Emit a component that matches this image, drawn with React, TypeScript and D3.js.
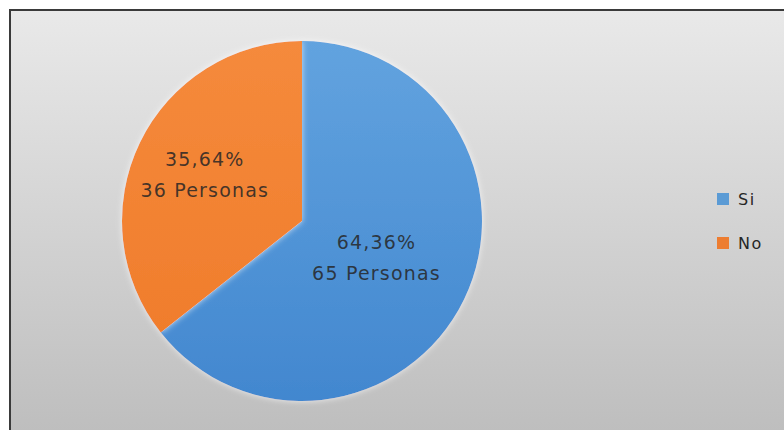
import { useRef, useEffect } from 'react'
import * as d3 from 'd3'

const categories = ["Si", "No"]
const counts = [65, 36]
const percentLabels = ["64,36%", "35,64%"]
const colors = ["#5b9bd5", "#ed7d31"]

const width = 784
const height = 430
// label distance from the centre, as a share of the radius (Excel best-fit placement)
const labelRadius = [0.46, 0.6]

export default function App() {
  const svgRef = useRef<SVGSVGElement>(null)

  useEffect(() => {
    if (!svgRef.current) return
    const svg = d3.select(svgRef.current)
    svg.selectAll("*").remove()

    const defs = svg.append("defs")

    // chart area background
    const bg = defs.append("linearGradient")
      .attr("id", "bg-grad")
      .attr("x1", "0%").attr("y1", "0%")
      .attr("x2", "0%").attr("y2", "100%")
    bg.append("stop").attr("offset", "0%").attr("stop-color", "#e9e9e9")
    bg.append("stop").attr("offset", "100%").attr("stop-color", "#bcbcbc")

    const sliceGrads = [
      ["#62a3df", "#4287cf"],
      ["#f58a3c", "#f07d2c"],
    ]
    sliceGrads.forEach((g, i) => {
      const lg = defs.append("linearGradient")
        .attr("id", `slice-${i}`)
        .attr("x1", "0%").attr("y1", "0%")
        .attr("x2", "0%").attr("y2", "100%")
      lg.append("stop").attr("offset", "0%").attr("stop-color", g[0])
      lg.append("stop").attr("offset", "100%").attr("stop-color", g[1])
    })

    const shadow = defs.append("filter").attr("id", "glow")
      .attr("x", "-10%").attr("y", "-10%").attr("width", "120%").attr("height", "120%")
    shadow.append("feGaussianBlur").attr("in", "SourceAlpha").attr("stdDeviation", 3).attr("result", "b")
    shadow.append("feFlood").attr("flood-color", "#ffffff").attr("flood-opacity", 0.7)
    shadow.append("feComposite").attr("in2", "b").attr("operator", "in").attr("result", "g")
    const merge = shadow.append("feMerge")
    merge.append("feMergeNode").attr("in", "g")
    merge.append("feMergeNode").attr("in", "SourceGraphic")

    // frame
    svg.append("rect")
      .attr("x", 10).attr("y", 10)
      .attr("width", width + 10).attr("height", height + 10)
      .attr("fill", "url(#bg-grad)")
      .attr("stroke", "#3a3a3a")
      .attr("stroke-width", 2)

    // pie
    const cx = 302
    const cy = 221
    const radius = 180

    const pie = d3.pie<number>().sort(null).value(d => d)
    const arcs = pie(counts)
    const arc = d3.arc<d3.PieArcDatum<number>>().innerRadius(0).outerRadius(radius)

    const g = svg.append("g").attr("transform", `translate(${cx},${cy})`)
    g.selectAll("path.slice")
      .data(arcs)
      .enter()
      .append("path")
      .attr("class", "slice")
      .attr("d", arc)
      .attr("fill", (_, i) => `url(#slice-${i})`)
      .attr("filter", "url(#glow)")

    // data labels
    const labels = g.selectAll("text.lbl")
      .data(arcs)
      .enter()
      .append("text")
      .attr("class", "lbl")
      .attr("transform", (d, i) => {
        const labelArc = d3.arc<d3.PieArcDatum<number>>()
          .innerRadius(0).outerRadius(radius * labelRadius[i] * 2)
        const [x, y] = labelArc.centroid(d)
        return `translate(${x},${y})`
      })
      .attr("text-anchor", "middle")
      .style("font-family", "'DejaVu Sans', sans-serif")
      .style("font-size", "19px")
      .style("letter-spacing", "1.2px")
      .style("fill", "#262626")
      .style("fill-opacity", 0.85)

    labels.append("tspan")
      .attr("x", 0).attr("y", -8)
      .text((_, i) => percentLabels[i])
    labels.append("tspan")
      .attr("x", 0).attr("y", 23)
      .text((d, i) => `${counts[i]} Personas`)

    // legend
    const legend = svg.append("g").attr("transform", "translate(717,193)")
    categories.forEach((c, i) => {
      const row = legend.append("g").attr("transform", `translate(0,${i * 44})`)
      row.append("rect")
        .attr("width", 12).attr("height", 12)
        .attr("fill", colors[i])
      row.append("text")
        .attr("x", 21).attr("y", 12)
        .style("font-family", "'DejaVu Sans', sans-serif")
        .style("font-size", "16px")
        .style("letter-spacing", "1.5px")
        .style("fill", "#262626")
        .text(c)
    })
  }, [])

  return (
    <svg
      ref={svgRef}
      width={width}
      height={height}
      style={{ position: "absolute", left: 0, top: 0 }}
    />
  )
}
